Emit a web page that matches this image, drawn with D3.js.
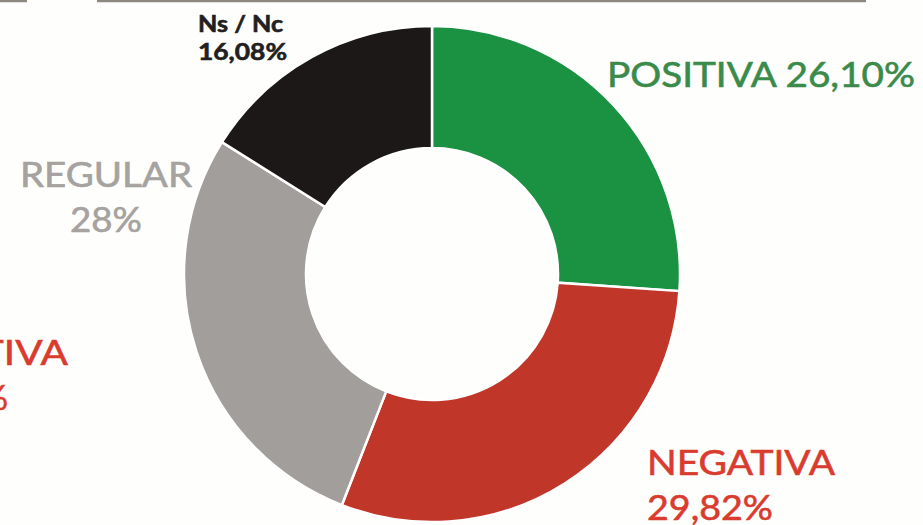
<!DOCTYPE html>
<html>
<head>
<meta charset="utf-8">
<script src="https://cdn.jsdelivr.net/npm/d3@7"></script>
<style>
  html, body { margin: 0; padding: 0; background: #fefefc; }
  svg { display: block; font-family: Lato, "Open Sans", sans-serif; }
</style>
</head>
<body>
<svg width="923" height="525"></svg>
<script>

// slice order, clockwise from 12 o'clock
const categories = ["POSITIVA", "NEGATIVA", "REGULAR", "Ns / Nc"];
const values = [26.10, 29.82, 28, 16.08];
const valueLabels = ["26,10%", "29,82%", "28%", "16,08%"];
const sliceColors = ["#1b9142", "#c0372a", "#a19e9b", "#1c1818"];
const textColors = ["#3a8b4b", "#d93c2e", "#a5a29f", "#231f20"];

const svg = d3.select("svg"),
  width = +svg.attr("width"),
  height = +svg.attr("height");

const cx = 432, cy = 274;
const outerR = 248, innerR = 126;

// top rule (cut off piece of the page layout)
svg.append("line")
  .attr("x1", 0).attr("x2", 27).attr("y1", 1).attr("y2", 1)
  .attr("stroke", "#8d8880").attr("stroke-width", 2.5);
svg.append("line")
  .attr("x1", 97).attr("x2", 866).attr("y1", 1).attr("y2", 1)
  .attr("stroke", "#8d8880").attr("stroke-width", 2.5);

const pie = d3.pie().sort(null).value(d => d);
const arc = d3.arc().innerRadius(innerR).outerRadius(outerR);

const chart = svg.append("g")
  .attr("transform", `translate(${cx},${cy})`);

chart.selectAll("path")
  .data(pie(values))
  .enter()
  .append("path")
  .attr("d", arc)
  .attr("fill", (d, i) => sliceColors[i])
  .attr("stroke", "#ffffff")
  .attr("stroke-width", 2.5);

// label placement per slice
const labelLayout = [
  { x: 607, y1: 87, y2: null, anchor: "start", size: 34, weight: 400, w1: 308, inline: true },
  { x: 647, y1: 475, y2: 520, anchor: "start", size: 34, weight: 400, w1: 188, w2: 126 },
  { x: 106, y1: 187, y2: 232, anchor: "middle", size: 34, weight: 400, w1: 172, w2: 72 },
  { x: 198, y1: 32, y2: 60, anchor: "start", size: 22, weight: 700, w1: 85, w2: 89 }
];

categories.forEach((c, i) => {
  const l = labelLayout[i];
  const t = svg.append("text")
    .attr("fill", textColors[i])
    .attr("stroke", textColors[i])
    .attr("stroke-width", 0.6)
    .attr("text-anchor", l.anchor)
    .style("font-size", l.size + "px")
    .style("font-weight", l.weight);
  if (l.inline) {
    t.attr("x", l.x).attr("y", l.y1)
      .attr("textLength", l.w1).attr("lengthAdjust", "spacingAndGlyphs")
      .text(c + " " + valueLabels[i]);
  } else {
    t.append("tspan").attr("x", l.x).attr("y", l.y1)
      .attr("textLength", l.w1).attr("lengthAdjust", "spacingAndGlyphs")
      .text(c);
    t.append("tspan").attr("x", l.x).attr("y", l.y2)
      .attr("textLength", l.w2).attr("lengthAdjust", "spacingAndGlyphs")
      .text(valueLabels[i]);
  }
});

// neighbouring chart's label, cut by the left edge
const clipped = svg.append("text")
  .attr("fill", textColors[1])
  .attr("stroke", textColors[1])
  .attr("stroke-width", 0.6)
  .attr("text-anchor", "end")
  .style("font-size", "35px");
clipped.append("tspan").attr("x", 68).attr("y", 365)
  .attr("textLength", 196).attr("lengthAdjust", "spacingAndGlyphs")
  .text("NEGATIVA");
clipped.append("tspan").attr("x", 8).attr("y", 410)
  .text("%");

</script>
</body>
</html>
